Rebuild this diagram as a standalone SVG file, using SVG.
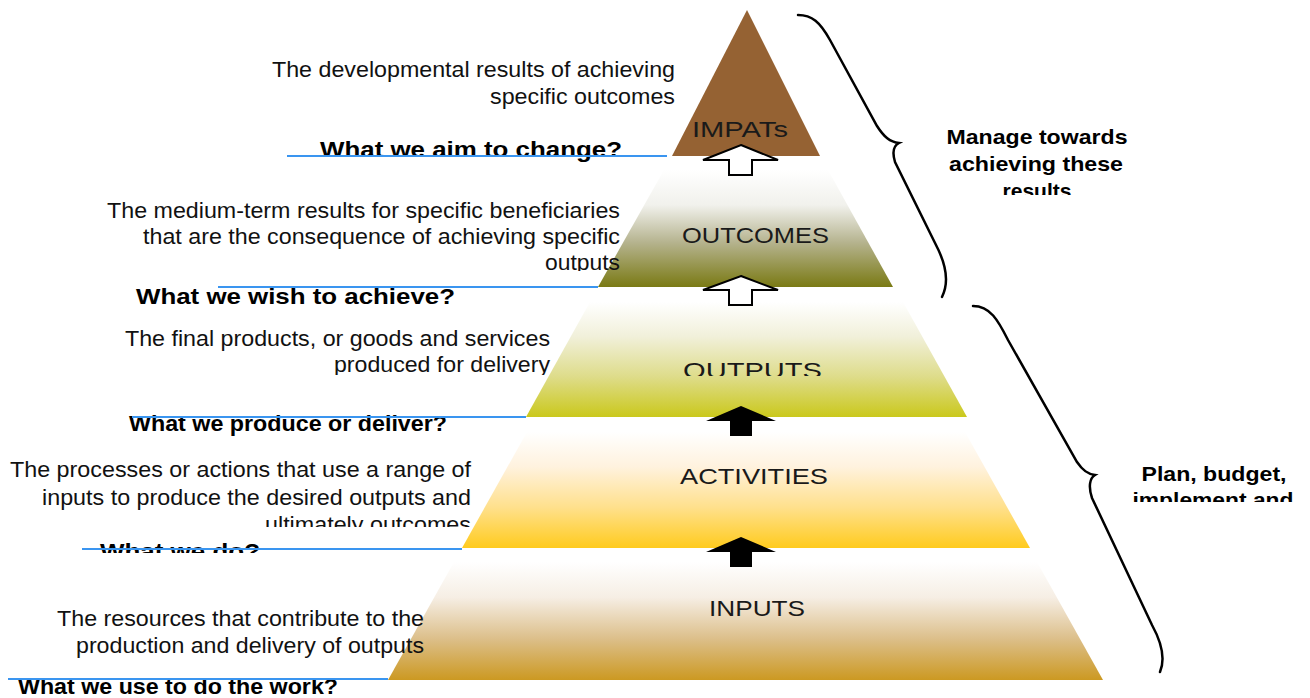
<svg xmlns="http://www.w3.org/2000/svg" width="1310" height="698" viewBox="0 0 1310 698">
  <style>
    .desc { font-family: "Liberation Sans", Arial, sans-serif; font-size: 22px; fill: #111; }
    .q { font-family: "Liberation Sans", Arial, sans-serif; font-size: 22px; font-weight: bold; fill: #000; }
    .lvl { font-family: "Liberation Sans", Arial, sans-serif; font-size: 22px; fill: #1a1a1a; }
    .side { font-family: "Liberation Sans", Arial, sans-serif; font-size: 21px; font-weight: bold; fill: #000; text-anchor: middle; }
    .lead { stroke: #3a95f0; stroke-width: 2; fill: none; }
    .up-open { fill: #fff; stroke: #000; stroke-width: 2; stroke-linejoin: miter; }
    .up-solid { fill: #000; stroke: none; }
    .brace { fill: none; stroke: #000; stroke-width: 2.5; stroke-linecap: round; }
  </style>
  <defs>
    <linearGradient id="gOutcomes" x1="0" y1="0" x2="0" y2="1">
      <stop offset="0" stop-color="#ffffff"/>
      <stop offset="0.3" stop-color="#f1f1ec"/>
      <stop offset="0.62" stop-color="#b5b38e"/>
      <stop offset="1" stop-color="#7a7a14"/>
    </linearGradient>
    <linearGradient id="gOutputs" x1="0" y1="0" x2="0" y2="1">
      <stop offset="0" stop-color="#ffffff"/>
      <stop offset="0.3" stop-color="#f1f0da"/>
      <stop offset="0.65" stop-color="#dedc8a"/>
      <stop offset="1" stop-color="#cac81c"/>
    </linearGradient>
    <linearGradient id="gActivities" x1="0" y1="0" x2="0" y2="1">
      <stop offset="0" stop-color="#ffffff"/>
      <stop offset="0.3" stop-color="#fff2de"/>
      <stop offset="0.65" stop-color="#ffe08c"/>
      <stop offset="1" stop-color="#ffcb1e"/>
    </linearGradient>
    <linearGradient id="gInputs" x1="0" y1="0" x2="0" y2="1">
      <stop offset="0" stop-color="#ffffff"/>
      <stop offset="0.3" stop-color="#f6eee4"/>
      <stop offset="0.65" stop-color="#dcbf8a"/>
      <stop offset="1" stop-color="#cc9922"/>
    </linearGradient>
    <!-- text frames that cut off overflowing lines -->
    <clipPath id="cOutcomesTxt"><rect x="0" y="190" width="640" height="81"/></clipPath>
    <clipPath id="cOutputsTxt"><rect x="0" y="320" width="600" height="55"/></clipPath>
    <clipPath id="cOutputsLbl"><rect x="660" y="340" width="200" height="36"/></clipPath>
    <clipPath id="cActTxt"><rect x="0" y="450" width="480" height="77"/></clipPath>
    <clipPath id="cDoTxt"><rect x="0" y="535" width="480" height="18"/></clipPath>
    <clipPath id="cManageTxt"><rect x="930" y="115" width="220" height="80"/></clipPath>
    <clipPath id="cPlanTxt"><rect x="1120" y="455" width="190" height="47"/></clipPath>
  </defs>

  <!-- top level -->
  <g id="impacts">
    <polygon points="747,10 820,156 672,156" fill="#956233"/>
    <text class="lvl" x="692" y="137" textLength="96" lengthAdjust="spacingAndGlyphs">IMPATs</text>
    <text class="desc" x="675" y="77" text-anchor="end" textLength="403" lengthAdjust="spacingAndGlyphs">The developmental results of achieving</text>
    <text class="desc" x="675" y="104" text-anchor="end" textLength="185" lengthAdjust="spacingAndGlyphs">specific outcomes</text>
    <text class="q" x="320" y="157" textLength="302" lengthAdjust="spacingAndGlyphs">What we aim to change?</text>
  </g>

  <g id="outcomes">
    <polygon points="664,170 828,170 893,287 598,287" fill="url(#gOutcomes)"/>
    <text class="lvl" x="682" y="243" textLength="147" lengthAdjust="spacingAndGlyphs">OUTCOMES</text>
    <g clip-path="url(#cOutcomesTxt)">
      <text class="desc" x="620" y="218" text-anchor="end" textLength="513" lengthAdjust="spacingAndGlyphs">The medium-term results for specific beneficiaries</text>
      <text class="desc" x="620" y="244" text-anchor="end" textLength="477" lengthAdjust="spacingAndGlyphs">that are the consequence of achieving specific</text>
      <text class="desc" x="620" y="270" text-anchor="end" textLength="75" lengthAdjust="spacingAndGlyphs">outputs</text>
    </g>
    <text class="q" x="136" y="304" textLength="319" lengthAdjust="spacingAndGlyphs">What we wish to achieve?</text>
  </g>

  <g id="outputs">
    <polygon points="590,302 903,302 967,417 526,417" fill="url(#gOutputs)"/>
    <text class="lvl" x="683" y="378" textLength="139" lengthAdjust="spacingAndGlyphs" clip-path="url(#cOutputsLbl)">OUTPUTS</text>
    <g clip-path="url(#cOutputsTxt)">
      <text class="desc" x="550" y="346" text-anchor="end" textLength="425" lengthAdjust="spacingAndGlyphs">The final products, or goods and services</text>
      <text class="desc" x="550" y="372" text-anchor="end" textLength="216" lengthAdjust="spacingAndGlyphs">produced for delivery</text>
    </g>
    <text class="q" x="129" y="431" textLength="318" lengthAdjust="spacingAndGlyphs">What we produce or deliver?</text>
  </g>

  <g id="activities">
    <polygon points="527,432 965,432 1030,548 462,548" fill="url(#gActivities)"/>
    <text class="lvl" x="680" y="484" textLength="148" lengthAdjust="spacingAndGlyphs">ACTIVITIES</text>
    <g clip-path="url(#cActTxt)">
      <text class="desc" x="471" y="477" text-anchor="end" textLength="461" lengthAdjust="spacingAndGlyphs">The processes or actions that use a range of</text>
      <text class="desc" x="471" y="505" text-anchor="end" textLength="429" lengthAdjust="spacingAndGlyphs">inputs to produce the desired outputs and</text>
      <text class="desc" x="471" y="532" text-anchor="end" textLength="206" lengthAdjust="spacingAndGlyphs">ultimately outcomes</text>
    </g>
    <text class="q" x="100" y="559" textLength="160" lengthAdjust="spacingAndGlyphs" clip-path="url(#cDoTxt)">What we do?</text>
  </g>

  <g id="inputs">
    <polygon points="454,562 1037,562 1103,680 388,680" fill="url(#gInputs)"/>
    <text class="lvl" x="709" y="616" textLength="96" lengthAdjust="spacingAndGlyphs">INPUTS</text>
    <text class="desc" x="424" y="626" text-anchor="end" textLength="367" lengthAdjust="spacingAndGlyphs">The resources that contribute to the</text>
    <text class="desc" x="424" y="653" text-anchor="end" textLength="348" lengthAdjust="spacingAndGlyphs">production and delivery of outputs</text>
    <text class="q" x="18" y="694" textLength="320" lengthAdjust="spacingAndGlyphs">What we use to do the work?</text>
  </g>

  <!-- brace grouping the result levels -->
  <g id="manage">
    <path class="brace" d="M798,15 C812,15 820,22 830,40 L877,126 C884,137 890,142 899,143 C893,146 892,152 895,162 L936,245 C948,268 948,285 942,297"/>
    <g clip-path="url(#cManageTxt)">
      <text class="side" x="1037" y="144" textLength="181" lengthAdjust="spacingAndGlyphs">Manage towards</text>
      <text class="side" x="1036" y="171" textLength="174" lengthAdjust="spacingAndGlyphs">achieving these</text>
      <text class="side" x="1037" y="198">results</text>
    </g>
  </g>

  <!-- brace grouping the delivery levels -->
  <g id="plan">
    <path class="brace" d="M973,306 C990,306 998,320 1008,340 L1077,462 C1083,471 1088,474 1095,475 C1090,478 1088,486 1092,498 L1152,625 C1163,645 1165,660 1160,672"/>
    <g clip-path="url(#cPlanTxt)">
      <text class="side" x="1214" y="481" textLength="145" lengthAdjust="spacingAndGlyphs">Plan, budget,</text>
      <text class="side" x="1213" y="507" textLength="161" lengthAdjust="spacingAndGlyphs">implement and</text>
    </g>
  </g>

  <g id="connectors">
    <line class="lead" x1="287" y1="156" x2="667" y2="156"/>
    <line class="lead" x1="218" y1="287" x2="598" y2="287"/>
    <line class="lead" x1="132" y1="417" x2="526" y2="417"/>
    <line class="lead" x1="82" y1="549" x2="462" y2="549"/>
    <line class="lead" x1="8" y1="679" x2="388" y2="679"/>
    <polygon class="up-open" points="741,145 778,160 752,160 752,175 729,175 729,160 703,160"/>
    <polygon class="up-open" points="741,276 778,290 752,290 752,305 729,305 729,290 703,290"/>
    <polygon class="up-solid" points="741,406 776,421 752,421 752,436 730,436 730,421 706,421"/>
    <polygon class="up-solid" points="741,537 776,552 752,552 752,567 730,567 730,552 706,552"/>
  </g>
</svg>
